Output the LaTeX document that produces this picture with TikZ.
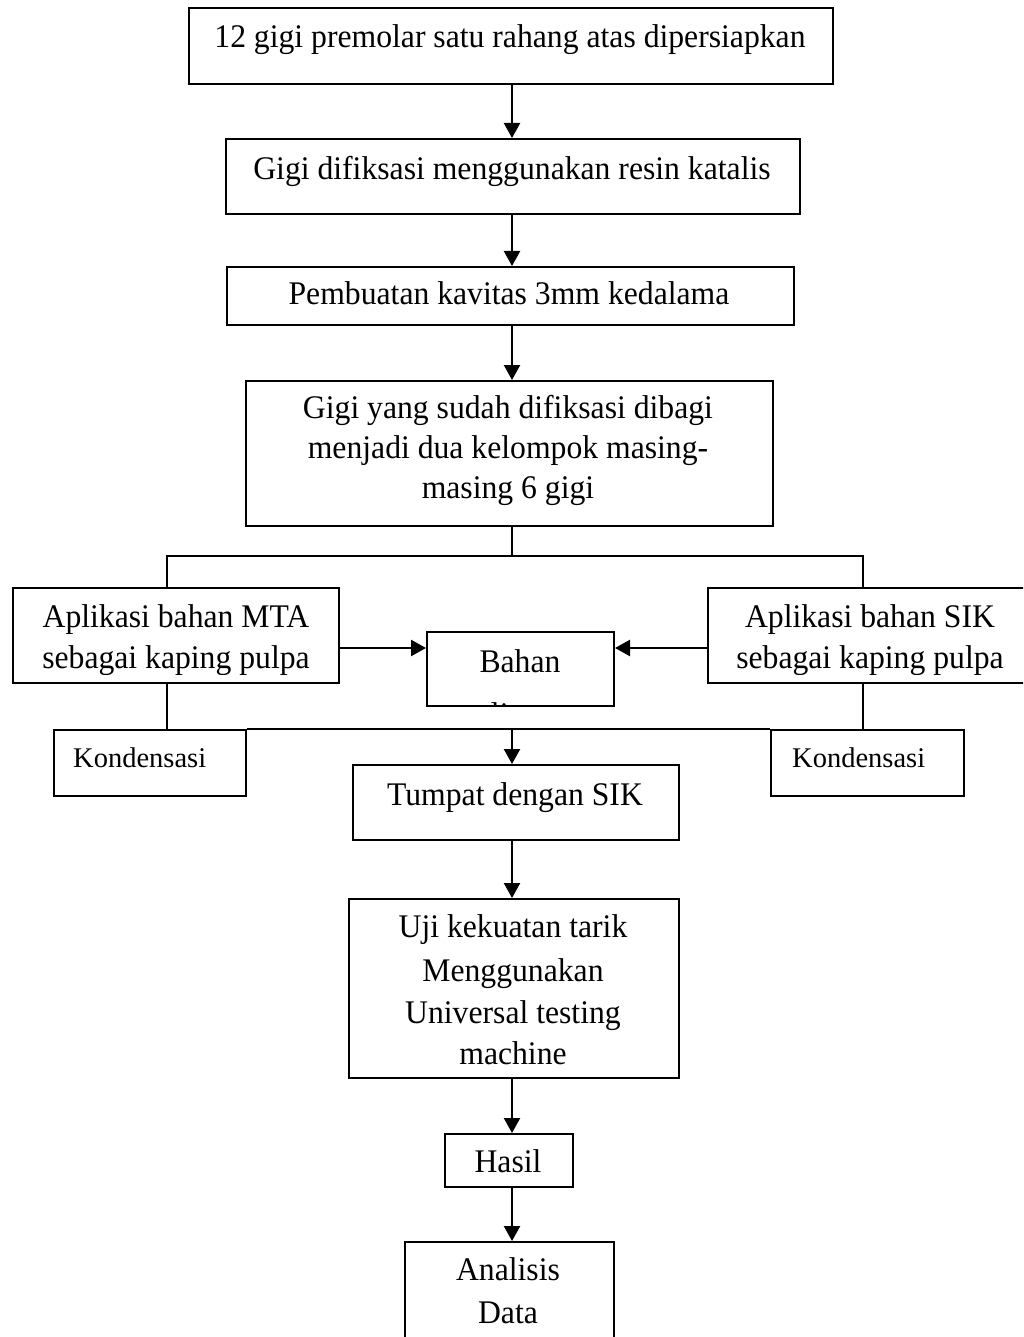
\documentclass[tikz,border=0pt]{standalone}
\usepackage{fontspec}
\setmainfont{Liberation Serif}[FakeStretch=0.96]
\newfontfamily\kfont{Liberation Serif}
\usetikzlibrary{arrows.meta}
\begin{document}
\begin{tikzpicture}[x=1pt,y=-1pt,
  box/.style={draw=black,line width=2pt,rectangle,inner sep=0pt,anchor=north west},
  txt/.style={anchor=base,inner sep=0pt,font=\fontsize{33}{42}\selectfont},
  ktxt/.style={anchor=base west,inner sep=0pt,font=\kfont\fontsize{28.5}{34}\selectfont},
  con/.style={line width=2.3pt},
  arr/.style={line width=2.3pt,-{Triangle[length=15pt,width=16pt]}}]
\useasboundingbox (0,0) rectangle (1023,1337);
\clip (0,0) rectangle (1023,1337);
\fill[white] (0,0) rectangle (1023,1337);
% boxes (north west corners, sizes in px)
\node[box,minimum width=644pt,minimum height=76pt] (b1) at (188,7) {};
\node[box,minimum width=574pt,minimum height=75pt] (b2) at (225,138) {};
\node[box,minimum width=567pt,minimum height=58pt] (b3) at (226,266) {};
\node[box,minimum width=527pt,minimum height=145pt] (b4) at (245,380) {};
\node[box,minimum width=326pt,minimum height=95pt] (mta) at (12,587) {};
\node[box,minimum width=187pt,minimum height=74pt] (bahan) at (426,631) {};
\node[box,minimum width=330pt,minimum height=95pt] (sik) at (707,587) {};
\node[box,minimum width=192pt,minimum height=66pt] (kl) at (53,729) {};
\node[box,minimum width=193pt,minimum height=66pt] (kr) at (770,729) {};
\node[box,minimum width=326pt,minimum height=75pt] (tumpat) at (352,764) {};
\node[box,minimum width=330pt,minimum height=179pt] (uji) at (348,898) {};
\node[box,minimum width=128pt,minimum height=53pt] (hasil) at (444,1133) {};
\node[box,minimum width=209pt,minimum height=140pt] (anal) at (404,1241) {};
% texts
\node[txt] (t1) at (510,48) {12 gigi premolar satu rahang atas dipersiapkan};
\node[txt] (t2) at (512,180) {Gigi difiksasi menggunakan resin katalis};
\node[txt] (t3) at (509,305) {Pembuatan kavitas 3mm kedalama};
\node[txt] (t4a) at (508,418) {Gigi yang sudah difiksasi dibagi};
\node[txt] (t4b) at (508,458) {menjadi dua kelompok masing-};
\node[txt] (t4c) at (508,498) {masing 6 gigi};
\node[txt] (tm1) at (176,627) {Aplikasi bahan MTA};
\begin{scope}
\clip (mta.north west) rectangle ([yshift=10pt]mta.south east);
\node[txt] (tm2) at (176,668) {sebagai kaping pulpa};
\end{scope}
\node[txt] (ts1) at (870,627) {Aplikasi bahan SIK};
\begin{scope}
\clip (sik.north west) rectangle ([yshift=10pt]sik.south east);
\node[txt] (ts2) at (870,668) {sebagai kaping pulpa};
\end{scope}
\begin{scope}
\clip (bahan.north west) rectangle ([yshift=2pt]bahan.south east);
\node[txt] (tb1) at (520,672) {Bahan};
\node[txt] (tb2) at (520,725) {liner};
\end{scope}
\node[ktxt] (tk1) at (73,767) {Kondensasi};
\node[ktxt] (tk2) at (792,767) {Kondensasi};
\node[txt] (tt) at (515,805) {Tumpat dengan SIK};
\node[txt] (tu1) at (513,937) {Uji kekuatan tarik};
\node[txt] (tu2) at (513,981) {Menggunakan};
\node[txt] (tu3) at (513,1023) {Universal testing};
\node[txt] (tu4) at (513,1064) {machine};
\node[txt] (th) at (508,1172) {Hasil};
\node[txt] (ta1) at (508,1280) {Analisis};
\node[txt] (ta2) at (508,1323) {Data};
% connectors
\coordinate (spine) at (512,0);
\coordinate (jl) at (167,556);
\coordinate (jr) at (863,556);
\coordinate (split) at (512,556);
\coordinate (ya) at (0,648);
\draw[arr] (spine |- b1.south) -- (spine |- b2.north);
\draw[arr] (spine |- b2.south) -- (spine |- b3.north);
\draw[arr] (spine |- b3.south) -- (spine |- b4.north);
\draw[con] (spine |- b4.south) -- (split);
\draw[con] (jl |- mta.north) -- (jl) -- (jr) -- (jr |- sik.north);
\draw[arr] (mta.east |- ya) -- (bahan.west |- ya);
\draw[arr] (sik.west |- ya) -- (bahan.east |- ya);
\draw[con] (jl |- mta.south) -- (jl |- kl.north);
\draw[con] (jr |- sik.south) -- (jr |- kr.north);
\draw[line width=2pt] (kl.north east) -- (kr.north west);
\draw[arr] (spine |- kl.north) -- (spine |- tumpat.north);
\draw[arr] (spine |- tumpat.south) -- (spine |- uji.north);
\draw[arr] (spine |- uji.south) -- (spine |- hasil.north);
\draw[arr] (spine |- hasil.south) -- (spine |- anal.north);
\end{tikzpicture}
\end{document}
